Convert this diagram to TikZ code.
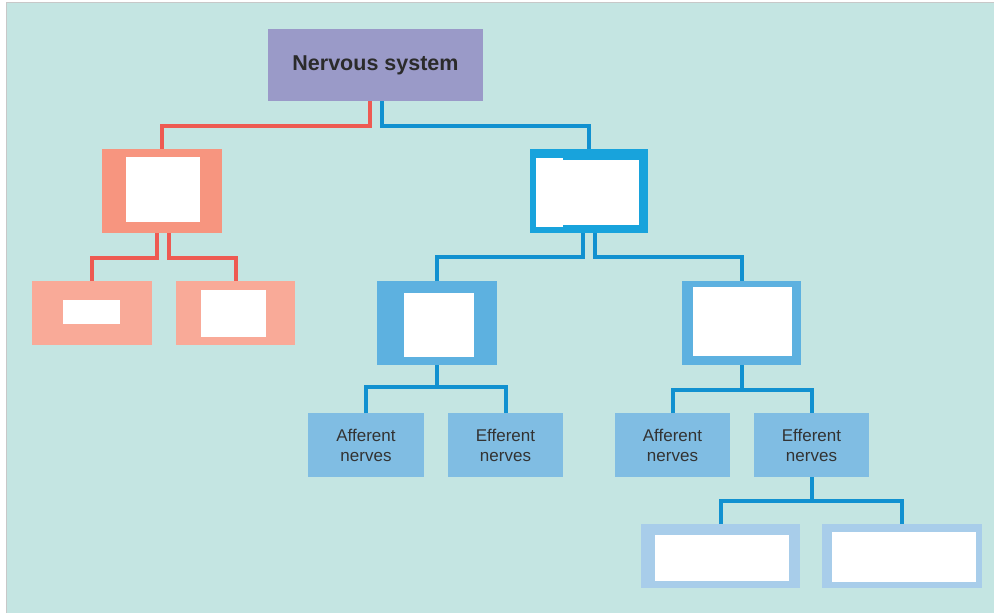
\documentclass[tikz,border=0pt]{standalone}
\usepackage{fontspec}
\setmainfont{Liberation Sans}
\definecolor{bg}{HTML}{C4E5E2}
\definecolor{bordc}{HTML}{C8C8C8}
\definecolor{nsc}{HTML}{9A9AC8}
\definecolor{redA}{HTML}{F7957F}
\definecolor{redB}{HTML}{F9AA98}
\definecolor{redln}{HTML}{EE5A52}
\definecolor{blueA}{HTML}{18A3DC}
\definecolor{blueB}{HTML}{5DB1E0}
\definecolor{nervec}{HTML}{80BDE3}
\definecolor{blueC}{HTML}{A8CDEA}
\definecolor{blueln}{HTML}{1191D0}
\definecolor{txt}{HTML}{333333}
\definecolor{txtb}{HTML}{2B2B2B}
\begin{document}
\begin{tikzpicture}[x=1pt,y=-1pt,
  box/.style={rectangle,inner sep=0pt,outer sep=0pt,draw=none},
  hole/.style={box,fill=white},
  rline/.style={draw=redln,line width=4pt},
  bline/.style={draw=blueln,line width=4pt},
  nerve/.style={box,fill=nervec,minimum width=116pt,minimum height=64pt,text=txt,
    font=\fontsize{17}{20}\selectfont,align=center},
]
\useasboundingbox (0,0) rectangle (994,613);
\fill[white] (0,0) rectangle (994,613);
\fill[bg] (7,3) rectangle (994,613);
\draw[bordc,line width=1.5pt] (6.5,613) -- (6.5,2.5) -- (994,2.5);

% top
\node[box,fill=nsc,minimum width=215pt,minimum height=72pt,text=txtb,
  font=\bfseries\fontsize{21.5}{26}\selectfont] (ns) at (375.5,65) {Nervous system};

% red branch
\node[box,fill=redA,minimum width=120pt,minimum height=84pt] (cns) at (162,191) {};
\node[hole,minimum width=74pt,minimum height=65pt] (cnsh) at (163,189.5) {};
\node[box,fill=redB,minimum width=120pt,minimum height=64pt] (rl) at (92,313) {};
\node[hole,minimum width=57pt,minimum height=24pt] (rlh) at (91.5,312) {};
\node[box,fill=redB,minimum width=119pt,minimum height=64pt] (rr) at (235.5,313) {};
\node[hole,minimum width=65pt,minimum height=47pt] (rrh) at (233.5,313.5) {};

% blue branch
\node[box,fill=blueA,minimum width=118pt,minimum height=84pt] (pns) at (589,191) {};
\node[hole,minimum width=27pt,minimum height=69pt] (pnsha) at (549.5,192.5) {};
\node[hole,minimum width=77pt,minimum height=65pt] (pnshb) at (600.5,192.5) {};
\node[box,fill=blueB,minimum width=120pt,minimum height=84pt] (bl) at (437,323) {};
\node[hole,minimum width=70pt,minimum height=64pt] (blh) at (439,325) {};
\node[box,fill=blueB,minimum width=119pt,minimum height=84pt] (br) at (741.5,323) {};
\node[hole,minimum width=99pt,minimum height=69pt] (brh) at (742.5,321.5) {};

\node[nerve] (a1) at (366,445) {Afferent\\nerves};
\node[nerve,minimum width=115pt] (e1) at (505.5,445) {Efferent\\nerves};
\node[nerve,minimum width=115pt] (a2) at (672.5,445) {Afferent\\nerves};
\node[nerve,minimum width=115pt] (e2) at (811.5,445) {Efferent\\nerves};

\node[box,fill=blueC,minimum width=159pt,minimum height=64pt] (s1) at (720.5,556) {};
\node[hole,minimum width=134pt,minimum height=46pt] (s1h) at (722,558) {};
\node[box,fill=blueC,minimum width=160pt,minimum height=64pt] (s2) at (902,556) {};
\node[hole,minimum width=144pt,minimum height=50pt] (s2h) at (904,557) {};

% connectors
\draw[rline] ([xshift=-5.5pt]ns.south) -- ++(0,25) -| (cns.north);
\draw[bline] ([xshift=6.5pt]ns.south) -- ++(0,25) -| (pns.north);
\draw[rline] ([xshift=-5pt]cns.south) -- ++(0,25) -| (rl.north);
\draw[rline] ([xshift=7pt]cns.south) -- ++(0,25) -| (rr.north);
\draw[bline] ([xshift=-6pt]pns.south) -- ++(0,24) -| (bl.north);
\draw[bline] ([xshift=6pt]pns.south) -- ++(0,24) -| (br.north);
\draw[bline] (bl.south) -- ++(0,22) coordinate (j1);
\draw[bline] (a1.north) |- (j1) -| (e1.north);
\draw[bline] (br.south) -- ++(0,25) coordinate (j2);
\draw[bline] (a2.north) |- (j2) -| (e2.north);
\draw[bline] (e2.south) -- ++(0,24) coordinate (j3);
\draw[bline] (s1.north) |- (j3) -| (s2.north);
\end{tikzpicture}
\end{document}
